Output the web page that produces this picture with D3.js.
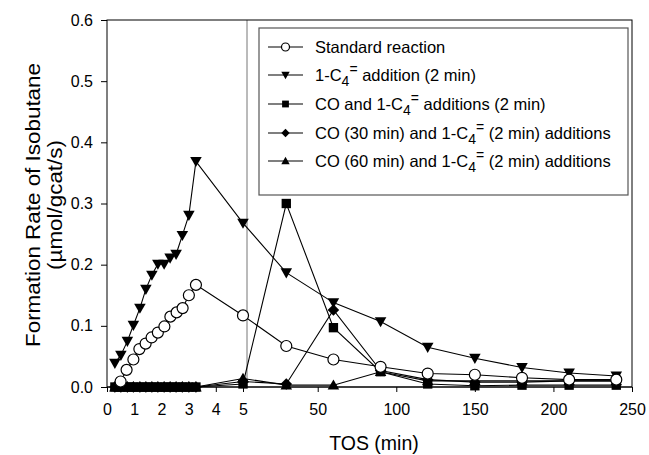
<!DOCTYPE html>
<html><head><meta charset="utf-8">
<script src="https://cdn.jsdelivr.net/npm/d3@7"></script>
<style>body{margin:0;background:#fff}svg{display:block}text{font-family:"Liberation Sans",Arial,sans-serif}</style>
</head><body><svg id="c" width="649" height="455"></svg>
<script>
// ---- data ----
const tEarlyTri = [0.29,0.51,0.75,0.97,1.21,1.43,1.65,1.87,2.10,2.32,2.54,2.77,3.01,3.27];
const tEarlyCirc = [0.50,0.72,0.97,1.19,1.42,1.64,1.87,2.11,2.33,2.56,2.78,3.01,3.27];
const tLate = [30,60,90,120,150,180,210,240];
const t5 = 5;

const standardEarly = [0.009,0.028,0.045,0.062,0.071,0.081,0.089,0.099,0.115,0.122,0.129,0.150,0.167];
const standard5 = 0.117;
const standardLate = [0.067,0.045,0.033,0.022,0.020,0.015,0.012,0.012];

const c4Early = [0.039,0.052,0.075,0.101,0.129,0.160,0.183,0.201,0.201,0.211,0.217,0.248,0.281,0.369];
const c4_5 = 0.268;
const c4Late = [0.187,0.138,0.107,0.065,0.047,0.032,0.023,0.018];

const coEarly = [0,0,0,0,0,0,0,0,0,0,0,0,0,0];
const co5 = 0.005;
const coLate = [0.300,0.097,0.025,0.005,0.002,0.003,0.003,0.003];

const co30Early = [0,0,0,0,0,0,0,0,0,0,0,0,0,0];
const co30_5 = 0.009;
const co30Late = [0.005,0.126,0.027,0.012,0.008,0.008,0.010,0.010];

const co60Early = [0,0,0,0,0,0,0,0,0,0,0,0,0,0];
const co60_5 = 0.014;
const co60Late = [0.003,0.003,0.025,0.010,0.010,0.010,0.010,0.010];

const leftTicks = [0,1,2,3,4,5];
const rightTicks = [50,100,150,200,250];
const yTicks = [0,0.1,0.2,0.3,0.4,0.5,0.6];

const legendLabels = [
  [["Standard reaction","n"]],
  [["1-C","n"],["4","sub"],["=","sup"],[" addition (2 min)","n"]],
  [["CO and 1-C","n"],["4","sub"],["=","sup"],[" additions (2 min)","n"]],
  [["CO (30 min) and 1-C","n"],["4","sub"],["=","sup"],[" (2 min) additions","n"]],
  [["CO (60 min) and 1-C","n"],["4","sub"],["=","sup"],[" (2 min) additions","n"]]
];

// ---- scales ----
const L = 107, R = 632, T = 20, B = 387;
const xLeft = d3.scaleLinear().domain([0,5]).range([L,243]);
const xRight = d3.scaleLinear().domain([5,250]).range([247,R]);
const y = d3.scaleLinear().domain([0,0.6]).range([B,T]);
function pts(early, tE, v5, late){
  const a = early.map((v,i)=>[xLeft(tE[i]), y(v)]);
  a.push([xLeft(t5), y(v5)]);
  late.forEach((v,i)=>a.push([xRight(tLate[i]), y(v)]));
  return a;
}
const series = [
  {p: pts(standardEarly,tEarlyCirc,standard5,standardLate), sym:"circle"},
  {p: pts(c4Early,tEarlyTri,c4_5,c4Late), sym:"tdown"},
  {p: pts(coEarly,tEarlyTri,co5,coLate), sym:"square"},
  {p: pts(co30Early,tEarlyTri,co30_5,co30Late), sym:"diamond"},
  {p: pts(co60Early,tEarlyTri,co60_5,co60Late), sym:"tup"}
];

const svg = d3.select("#c");

svg.append("line").attr("x1",xRight(5)).attr("x2",xRight(5)).attr("y1",T).attr("y2",B)
  .attr("stroke","#777").attr("stroke-width",1);

svg.append("rect").attr("x",L).attr("y",T).attr("width",R-L).attr("height",B-T)
  .attr("fill","none").attr("stroke","#000").attr("stroke-width",1);

const gy = svg.append("g").attr("transform",`translate(${L},0)`)
  .call(d3.axisLeft(y).tickValues(yTicks).tickFormat(d3.format(".1f")).tickSize(6).tickPadding(8));
const gxl = svg.append("g").attr("transform",`translate(0,${B})`)
  .call(d3.axisBottom(xLeft).tickValues(leftTicks).tickFormat(d3.format("d")).tickSize(5).tickPadding(12));
const gxr = svg.append("g").attr("transform",`translate(0,${B})`)
  .call(d3.axisBottom(xRight).tickValues(rightTicks).tickFormat(d3.format("d")).tickSize(5).tickPadding(12));
[gy,gxl,gxr].forEach(g=>{
  g.select(".domain").remove();
  g.selectAll("text").attr("font-size",16).attr("fill","#000").style("font-family","'Liberation Sans',Arial,sans-serif");
  g.selectAll("line").attr("stroke","#000");
});
svg.append("line").attr("x1",L).attr("x2",R).attr("y1",B).attr("y2",B).attr("stroke","#000");

svg.append("text").attr("x",374).attr("y",450).attr("text-anchor","middle").attr("font-size",19.5).text("TOS (min)");
const yt = svg.append("text").attr("transform","translate(0,205) rotate(-90) scale(1.15,1)").attr("text-anchor","middle").attr("font-size",19.5);
yt.append("tspan").attr("x",0).attr("y",40).text("Formation Rate of Isobutane");
yt.append("tspan").attr("x",0).attr("y",62).text("(µmol/gcat/s)");

function marker(g, sym, x, yy, s){
  if(sym==="circle") g.append("circle").attr("cx",x).attr("cy",yy).attr("r",s*0.5).attr("fill","#fff").attr("stroke","#000").attr("stroke-width",1.2);
  else {
    let d;
    const h=s/2;
    if(sym==="tdown") d=`M${x-h*1.05},${yy-h*0.8}L${x+h*1.05},${yy-h*0.8}L${x},${yy+h*1.05}Z`;
    if(sym==="tup") d=`M${x-h*1.05},${yy+h*0.8}L${x+h*1.05},${yy+h*0.8}L${x},${yy-h*1.05}Z`;
    if(sym==="square") d=`M${x-h*0.85},${yy-h*0.85}h${h*1.7}v${h*1.7}h${-h*1.7}Z`;
    if(sym==="diamond") d=`M${x},${yy-h*1.05}L${x+h*1.05},${yy}L${x},${yy+h*1.05}L${x-h*1.05},${yy}Z`;
    g.append("path").attr("d",d).attr("fill","#000");
  }
}
const line = d3.line();
const plot = svg.append("g");
[4,3,2,1,0].forEach(i=>{
  plot.append("path").attr("d",line(series[i].p)).attr("fill","none").attr("stroke","#000").attr("stroke-width",1.1);
});
[4,3,2,1,0].forEach(i=>{
  series[i].p.forEach(q=>marker(plot,series[i].sym,q[0],q[1],11));
});

const lg = svg.append("g");
lg.append("rect").attr("x",259).attr("y",28).attr("width",369).attr("height",167)
  .attr("fill","#fff").attr("stroke","#555").attr("stroke-width",1.2);
const rowY = [47,75,104,133,161];
const syms = ["circle","tdown","square","diamond","tup"];
rowY.forEach((ry,i)=>{
  lg.append("line").attr("x1",268).attr("x2",303).attr("y1",ry).attr("y2",ry).attr("stroke","#000").attr("stroke-width",1.1);
  marker(lg,syms[i],285.5,ry,8);
  const t = lg.append("text").attr("x",315).attr("y",ry+6).attr("font-size",16.5).attr("fill","#000");
  legendLabels[i].forEach(([s,k],j)=>{
    const ts = t.append("tspan").text(s);
    if(k==="sub") ts.attr("dy",5).attr("font-size",14);
    else if(k==="sup") ts.attr("dy",-12).attr("font-size",14);
    else if(j>0) ts.attr("dy",7);
  });
});
</script>
</body></html>
